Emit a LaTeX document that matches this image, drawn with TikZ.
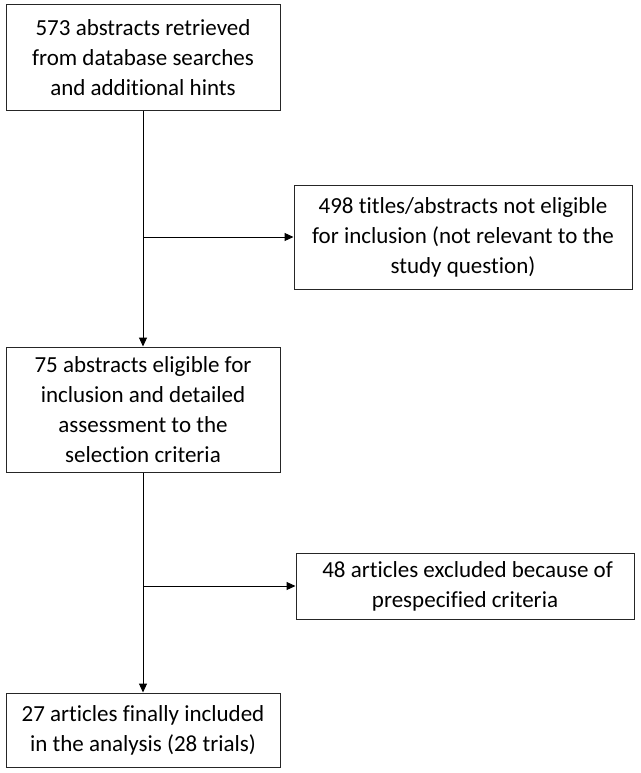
\documentclass[tikz,border=0pt]{standalone}
\usepackage{fontspec}
\setmainfont{Carlito}[Ligatures=NoCommon]
\usetikzlibrary{arrows.meta}
\begin{document}
\begin{tikzpicture}[x=1pt, y=-1pt,
    stagebox/.style={draw=black!85, line width=1pt, align=center, inner sep=0pt,
      font=\fontsize{23}{30}\selectfont},
    flow/.style={line width=1pt, -{Triangle[length=9pt,width=8pt]}}]
    \useasboundingbox (0,0) rectangle (640,773);
    \node[stagebox, minimum width=274pt, minimum height=106pt] (found) at (143,58)
      {573 abstracts retrieved\\from database searches\\and additional hints};
    \node[stagebox, minimum width=338pt, minimum height=104pt] (notelig) at (463,237)
      {498 titles/abstracts not eligible\\for inclusion (not relevant to the\\study question)};
    \node[stagebox, minimum width=274pt, minimum height=125pt] (elig) at (143,409.5)
      {75 abstracts eligible for\\inclusion and detailed\\assessment to the\\selection criteria};
    \node[stagebox, minimum width=338pt, minimum height=66pt] (excl) at (465,586)
      {\ 48 articles excluded because of\\prespecified criteria};
    \node[stagebox, minimum width=274pt, minimum height=74pt] (incl) at (143,730)
      {27 articles finally included\\in the analysis (28 trials)};
    \draw[flow] (found) -- (elig);
    \draw[flow] (notelig.west -| found.south) -- (notelig.west);
    \draw[flow] (elig) -- (incl);
    \draw[flow] (excl.west -| elig.south) -- (excl.west);
\end{tikzpicture}
\end{document}
